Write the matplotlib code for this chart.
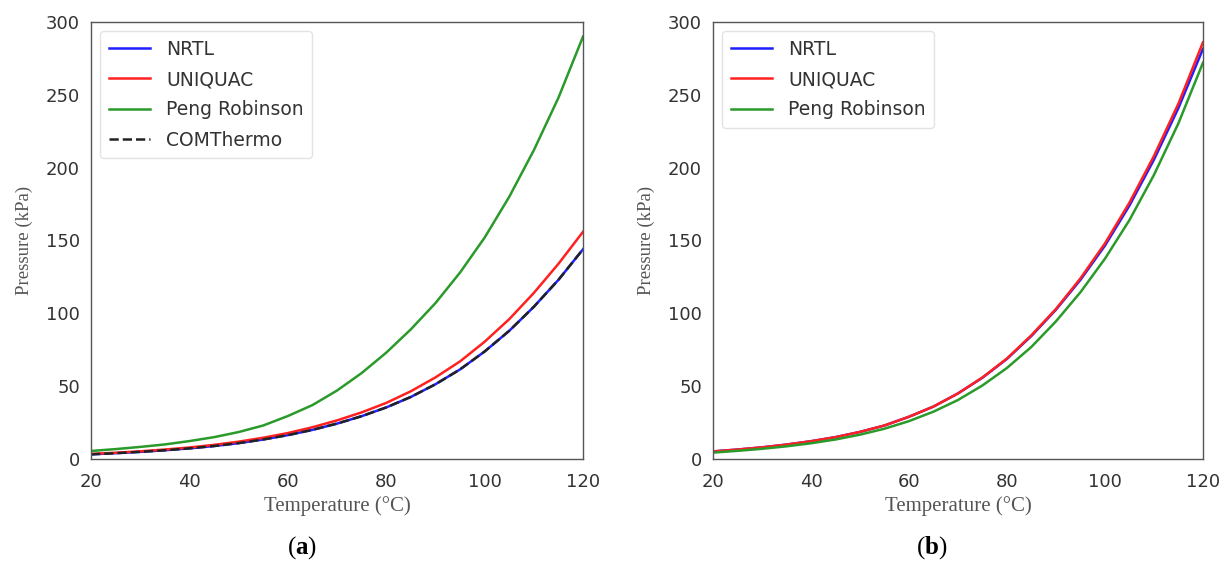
import numpy as np
import matplotlib.pyplot as plt

plt.rcParams['mathtext.fontset'] = 'custom'
plt.rcParams['mathtext.rm'] = 'Liberation Serif'
plt.rcParams['mathtext.bf'] = 'Liberation Serif:bold'

# 溫度 (°C)
temp = [20, 25, 30, 35, 40, 45, 50, 55, 60, 65, 70,
        75, 80, 85, 90, 95, 100, 105, 110, 115, 120]

# (a) 壓力 (kPa)
a_nrtl = [3.2, 4.0, 4.9, 6.0, 7.3, 8.9, 10.9, 13.4, 16.4, 20.0, 24.3,
          29.4, 35.4, 42.6, 51.3, 61.5, 73.8, 88.0, 104.5, 123.0, 144.0]
a_uniquac = [3.5, 4.3, 5.3, 6.5, 7.9, 9.7, 11.9, 14.6, 17.8, 21.8, 26.5,
             32.0, 38.5, 46.5, 56.0, 67.0, 80.5, 96.0, 114.0, 134.0, 156.0]
a_pr = [5.5, 6.8, 8.3, 10.0, 12.3, 15.0, 18.5, 23.0, 29.5, 37.0, 47.0,
        59.0, 73.0, 89.0, 107.0, 128.0, 152.0, 180.0, 212.0, 248.0, 290.0]
a_com = [3.2, 4.0, 4.9, 6.0, 7.3, 8.9, 10.9, 13.4, 16.4, 20.0, 24.3,
         29.4, 35.4, 42.6, 51.3, 61.5, 73.8, 88.0, 104.5, 123.0, 144.0]

# (b) 壓力 (kPa)
b_nrtl = [5.2, 6.5, 8.0, 9.9, 12.2, 15.0, 18.6, 23.0, 29.0, 36.0, 45.0,
          55.8, 68.7, 84.5, 102.5, 123.0, 146.5, 174.0, 205.5, 241.0, 281.5]
b_uniquac = [5.2, 6.5, 8.0, 9.9, 12.2, 15.0, 18.6, 23.0, 29.0, 36.0, 45.0,
             56.0, 69.0, 85.0, 103.0, 124.0, 148.0, 176.0, 208.0, 244.0, 286.0]
b_pr = [4.4, 5.6, 7.0, 8.7, 10.8, 13.4, 16.7, 20.8, 26.0, 32.5, 40.5,
        50.5, 62.5, 77.0, 94.5, 114.5, 137.5, 164.0, 195.0, 230.5, 272.0]

TICK = '#333333'
SERIF = ['Liberation Serif', 'DejaVu Serif']


def style(ax):
    ax.set_xlim(20, 120)
    ax.set_ylim(0, 300)
    ax.set_xticks(np.arange(20, 121, 20))
    ax.set_yticks(np.arange(0, 301, 50))
    ax.tick_params(axis='x', length=0, pad=10, labelsize=13, labelcolor=TICK)
    ax.tick_params(axis='y', length=0, pad=8, labelsize=13, labelcolor=TICK)
    for s in ax.spines.values():
        s.set_color('#555555')
        s.set_linewidth(1.0)
    ax.set_xlabel('Temperature (°C)', family=SERIF, fontsize=15, color='#555555', labelpad=4)
    ax.set_ylabel('Pressure (kPa)', family=SERIF, fontsize=13.5, color='#555555', labelpad=9)


def main():
    fig = plt.figure(figsize=(12.28, 5.65), dpi=100)
    ax1 = fig.add_axes([0.0741, 0.1876, 0.4007, 0.7735])
    ax2 = fig.add_axes([0.5806, 0.1876, 0.399, 0.7735])

    ax1.plot(temp, a_nrtl, color='#1f1fff', lw=1.8, label='NRTL')
    ax1.plot(temp, a_uniquac, color='#ff2020', lw=1.8, label='UNIQUAC')
    ax1.plot(temp, a_pr, color='#2a9a2a', lw=1.8, label='Peng Robinson')
    ax1.plot(temp, a_com, color='#222222', lw=1.8, ls='--', label='COMThermo')

    ax2.plot(temp, b_nrtl, color='#1f1fff', lw=1.8, label='NRTL')
    ax2.plot(temp, b_uniquac, color='#ff2020', lw=1.8, label='UNIQUAC')
    ax2.plot(temp, b_pr, color='#2a9a2a', lw=1.8, label='Peng Robinson')

    for ax in (ax1, ax2):
        style(ax)
        leg = ax.legend(loc='upper left', fontsize=13.5, frameon=True, fancybox=True,
                        borderpad=0.45, labelspacing=0.6, handlelength=2.2,
                        handletextpad=0.85, borderaxespad=0.5)
        leg.get_frame().set_edgecolor('#dddddd')
        for t in leg.get_texts():
            t.set_color(TICK)

    fig.text(0.246, 0.02, r'($\mathbf{a}$)', ha='center', family=SERIF, fontsize=18)
    fig.text(0.759, 0.02, r'($\mathbf{b}$)', ha='center', family=SERIF, fontsize=18)

    fig.savefig('out.png', dpi=100)


if __name__ == "__main__":
    main()
